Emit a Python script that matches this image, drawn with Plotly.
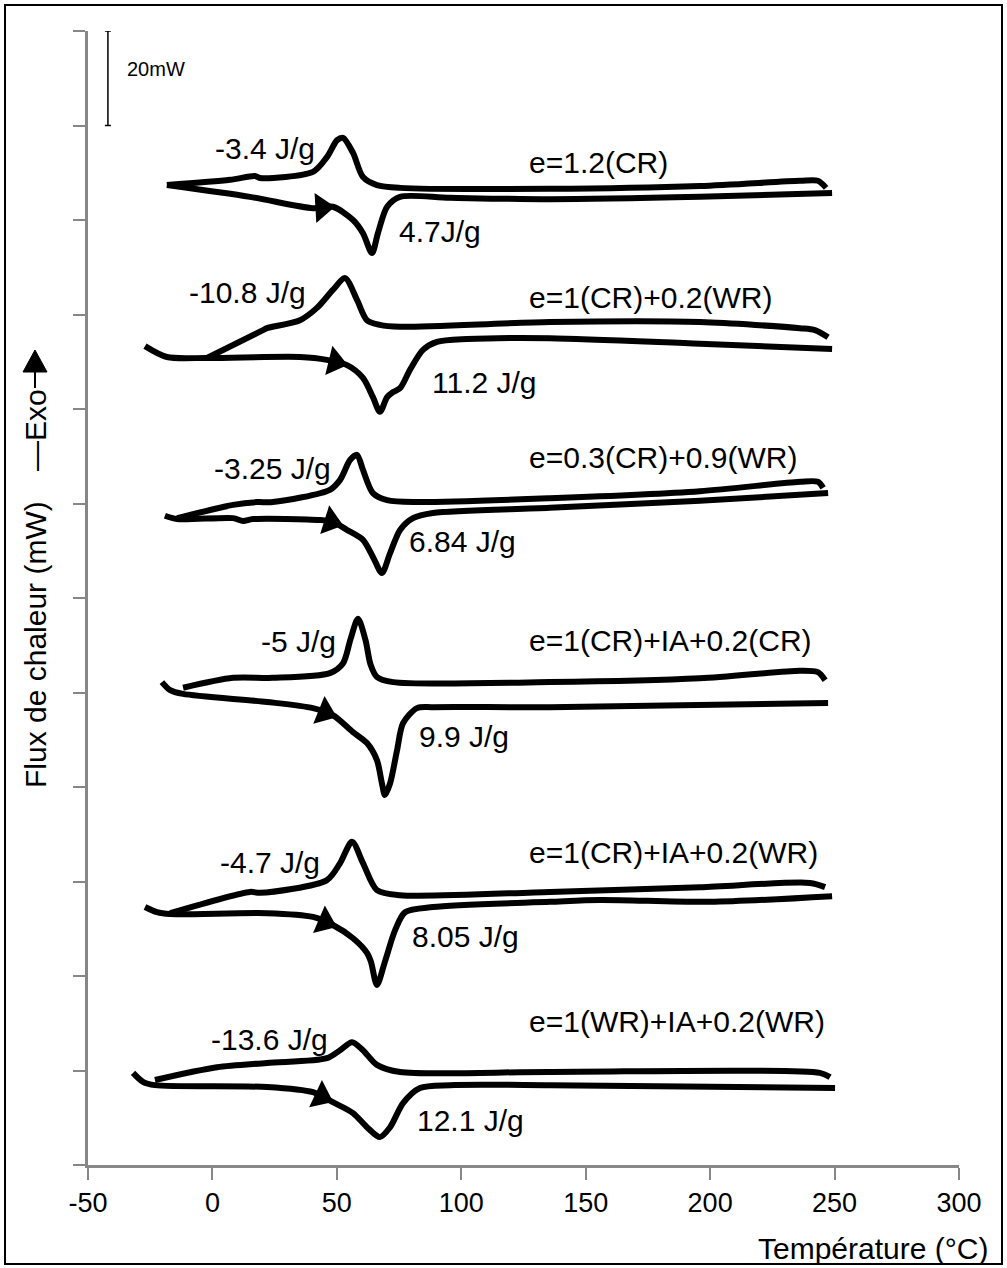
import numpy as np
import plotly.graph_objects as go

# ---------------------------------------------------------------------------
# DSC thermograms (heat flow in mW, each run shifted vertically for clarity).
# "heat" = heating scan (lower branch, endothermic melting dip)
# "cool" = cooling scan (upper branch, exothermic crystallisation peak)
# ---------------------------------------------------------------------------
sample_labels = [
    "e=1.2(CR)",
    "e=1(CR)+0.2(WR)",
    "e=0.3(CR)+0.9(WR)",
    "e=1(CR)+IA+0.2(CR)",
    "e=1(CR)+IA+0.2(WR)",
    "e=1(WR)+IA+0.2(WR)",
]
cryst_labels = ["-3.4 J/g", "-10.8 J/g", "-3.25 J/g", "-5 J/g", "-4.7 J/g", "-13.6 J/g"]
melt_labels = ["4.7J/g", "11.2 J/g", "6.84 J/g", "9.9 J/g", "8.05 J/g", "12.1 J/g"]

# run 1 : e=1.2(CR)
s1_heat_T = [-18.3, 15.1, 40.4, 48.4, 56.5, 60.5, 64.1, 66.5, 70.2, 75.4, 95.5, 135.6, 195.9, 249.0]
s1_heat_q = [207.4, 204.9, 202.5, 202.8, 200.0, 197.2, 193.0, 197.2, 202.8, 204.9, 204.7, 204.4, 204.9, 205.7]
s1_cool_T = [-18.3, 7.1, 17.1, 19.1, 40.4, 46.0, 50.1, 52.5, 56.5, 60.5, 66.1, 75.4, 135.6, 195.9, 236.1, 243.3, 246.6]
s1_cool_q = [207.4, 208.5, 209.3, 208.9, 210.2, 213.3, 216.9, 217.4, 214.2, 209.1, 207.4, 206.8, 206.6, 207.2, 208.3, 208.3, 206.8]

# run 2 : e=1(CR)+0.2(WR)
s2_heat_T = [-27.1, -18.3, -2.2, 35.2, 46.0, 54.1, 60.5, 64.5, 67.3, 70.2, 72.6, 75.4, 79.4, 84.6, 90.2, 102.3, 135.6, 195.9, 249.0]
s2_heat_q = [173.3, 171.0, 170.8, 171.0, 170.4, 169.3, 166.6, 162.5, 159.4, 162.5, 163.6, 164.4, 168.3, 172.5, 174.2, 174.8, 175.0, 173.8, 172.7]
s2_cool_T = [-2.2, 20.3, 21.9, 35.2, 42.0, 48.4, 53.3, 58.1, 62.1, 67.3, 75.4, 135.6, 195.9, 236.1, 242.1, 247.4]
s2_cool_q = [170.8, 176.7, 177.1, 178.8, 181.4, 185.2, 187.7, 183.1, 178.8, 177.8, 177.4, 178.4, 178.4, 177.1, 176.7, 175.2]

# run 3 : e=0.3(CR)+0.9(WR)
s3_heat_T = [-19.1, -14.2, 8.3, 12.3, 16.3, 43.2, 48.4, 54.1, 60.5, 64.5, 68.1, 71.4, 75.4, 80.6, 88.6, 135.6, 195.9, 247.4]
s3_heat_q = [137.4, 136.7, 136.9, 136.3, 136.7, 136.5, 136.1, 134.4, 132.3, 128.7, 125.3, 129.5, 134.4, 136.9, 138.0, 139.1, 140.6, 142.2]
s3_cool_T = [-14.2, 8.3, 17.9, 24.3, 47.2, 51.3, 55.3, 58.1, 60.5, 64.5, 70.2, 82.2, 135.6, 195.9, 236.1, 243.3, 245.4]
s3_cool_q = [136.9, 139.7, 140.3, 140.3, 142.9, 145.0, 149.2, 150.3, 147.1, 142.2, 140.7, 140.3, 141.1, 142.6, 144.6, 144.6, 143.3]

# run 4 : e=1(CR)+IA+0.2(CR)
s4_heat_T = [-20.3, -17.0, -11.8, 21.9, 40.4, 48.4, 56.5, 62.1, 66.1, 68.1, 69.3, 71.4, 74.2, 76.6, 82.2, 88.6, 135.6, 247.4]
s4_heat_q = [102.2, 100.5, 99.7, 98.0, 96.7, 95.2, 91.6, 89.3, 85.7, 80.8, 78.3, 80.8, 87.8, 93.5, 96.7, 96.9, 96.9, 97.8]
s4_cool_T = [-11.8, 8.3, 24.3, 47.2, 52.5, 55.5, 58.5, 61.5, 63.5, 66.1, 72.6, 135.6, 195.9, 236.1, 243.3, 246.2]
s4_cool_q = [101.0, 103.1, 103.1, 104.1, 106.2, 111.3, 115.6, 111.1, 106.0, 103.3, 102.2, 102.2, 103.0, 104.6, 104.3, 102.6]

# run 5 : e=1(CR)+IA+0.2(WR)
s5_heat_T = [-27.1, -22.3, -17.0, 21.9, 40.4, 48.4, 56.5, 62.1, 63.7, 66.1, 69.3, 73.4, 77.4, 88.6, 135.6, 155.7, 199.9, 249.0]
s5_heat_q = [54.6, 53.5, 53.1, 53.3, 52.5, 50.8, 48.0, 44.9, 43.0, 38.1, 43.0, 49.7, 53.5, 54.6, 55.7, 56.1, 55.7, 56.9]
s5_cool_T = [-17.0, 15.1, 19.1, 46.0, 51.3, 56.1, 60.5, 66.1, 75.4, 135.6, 195.9, 240.1, 246.2]
s5_cool_q = [53.3, 57.8, 57.6, 60.3, 63.9, 68.4, 63.9, 58.2, 57.1, 57.8, 58.8, 59.7, 58.8]

# run 6 : e=1(WR)+IA+0.2(WR)
s6_heat_T = [-31.9, -27.9, -23.1, 21.9, 40.4, 48.4, 56.5, 62.1, 67.3, 71.4, 76.6, 83.4, 95.5, 135.6, 250.2]
s6_heat_q = [19.5, 17.6, 16.9, 16.5, 15.4, 13.3, 11.0, 8.0, 5.9, 8.0, 13.1, 16.3, 16.9, 16.9, 16.3]
s6_cool_T = [-23.1, 1.8, 21.9, 46.0, 51.3, 56.1, 60.5, 66.1, 75.4, 135.6, 244.1, 248.2]
s6_cool_q = [18.0, 20.7, 21.6, 22.6, 24.3, 26.0, 24.3, 21.2, 19.7, 19.7, 19.5, 18.6]

# temperature at which the heating-direction arrow sits on each heating scan
arrow_T = [44.0, 49.3, 47.6, 45.2, 45.2, 43.8]

# vertical scale bar
scale_bar_mW = 20
scale_bar_T = -42.0
scale_bar_top = 240.0

x_ticks = [-50, 0, 50, 100, 150, 200, 250, 300]

heat_T = [s1_heat_T, s2_heat_T, s3_heat_T, s4_heat_T, s5_heat_T, s6_heat_T]
heat_q = [s1_heat_q, s2_heat_q, s3_heat_q, s4_heat_q, s5_heat_q, s6_heat_q]
cool_T = [s1_cool_T, s2_cool_T, s3_cool_T, s4_cool_T, s5_cool_T, s6_cool_T]
cool_q = [s1_cool_q, s2_cool_q, s3_cool_q, s4_cool_q, s5_cool_q, s6_cool_q]

# ---------------------------------------------------------------------------
W, H = 1007, 1268
ML, MR, MT, MB = 88, 48, 31, 103
X_RANGE = [-50, 300]
Y_RANGE = [0, 240]
PW, PH = W - ML - MR, H - MT - MB
PX_PER_T = PW / (X_RANGE[1] - X_RANGE[0])
PX_PER_Q = PH / (Y_RANGE[1] - Y_RANGE[0])

FONT = "Liberation Sans, Arial, sans-serif"
AXIS_GREY = "#878787"
LW = 6

fig = go.Figure()

for i in range(6):
    fig.add_trace(go.Scatter(
        x=heat_T[i], y=heat_q[i], mode="lines",
        line=dict(color="black", width=LW, shape="spline", smoothing=0.8),
        hoverinfo="skip", showlegend=False,
    ))
    fig.add_trace(go.Scatter(
        x=cool_T[i], y=cool_q[i], mode="lines",
        line=dict(color="black", width=LW, shape="spline", smoothing=0.8),
        hoverinfo="skip", showlegend=False,
    ))

# arrowheads placed on the heating scans, oriented along the local slope
ax_, ay_, ang_ = [], [], []
for i in range(6):
    t = arrow_T[i]
    q = float(np.interp(t, heat_T[i], heat_q[i]))
    q_lo = float(np.interp(t - 4, heat_T[i], heat_q[i]))
    q_hi = float(np.interp(t + 4, heat_T[i], heat_q[i]))
    dx = 8 * PX_PER_T
    dy = -(q_hi - q_lo) * PX_PER_Q
    ax_.append(t)
    ay_.append(q)
    ang_.append(float(np.degrees(np.arctan2(dy, dx))))
fig.add_trace(go.Scatter(
    x=ax_, y=ay_, mode="markers",
    marker=dict(symbol="triangle-right", size=26, color="black", angle=ang_,
                line=dict(width=0)),
    hoverinfo="skip", showlegend=False,
))

# 20 mW scale bar
fig.add_trace(go.Scatter(
    x=[scale_bar_T], y=[scale_bar_top - scale_bar_mW / 2], mode="markers",
    marker=dict(size=1, color="rgba(0,0,0,0)"),
    error_y=dict(type="data", array=[scale_bar_mW / 2], color="black",
                 thickness=1.5, width=3),
    cliponaxis=False, hoverinfo="skip", showlegend=False,
))

annotations = []
annotations.append(dict(
    x=scale_bar_T + 6.8, y=scale_bar_top - scale_bar_mW / 2 + 2, xref="x", yref="y",
    text=f"{scale_bar_mW}mW", showarrow=False, xanchor="left", yanchor="middle",
    font=dict(family=FONT, size=20, color="black"),
))

cryst_pos = [(42.0, 215.2), (38.4, 184.6), (48.4, 147.5), (50.5, 110.9), (44.0, 64.1), (47.2, 26.5)]
melt_pos = [(74.2, 197.5), (87.4, 165.7), (78.2, 131.9), (82.2, 90.6), (79.4, 48.3), (81.4, 9.5)]
label_q = [212.1, 183.5, 149.8, 111.1, 66.2, 30.3]
label_T = 126.4

for i in range(6):
    annotations.append(dict(
        x=cryst_pos[i][0], y=cryst_pos[i][1], xref="x", yref="y",
        text=cryst_labels[i], showarrow=False, xanchor="right", yanchor="middle",
        font=dict(family=FONT, size=30, color="black"),
    ))
    annotations.append(dict(
        x=melt_pos[i][0], y=melt_pos[i][1], xref="x", yref="y",
        text=melt_labels[i], showarrow=False, xanchor="left", yanchor="middle",
        font=dict(family=FONT, size=30, color="black"),
    ))
    annotations.append(dict(
        x=label_T, y=label_q[i], xref="x", yref="y",
        text=sample_labels[i], showarrow=False, xanchor="left", yanchor="middle",
        font=dict(family=FONT, size=30, color="black"),
    ))


def px_to_paper(px, py):
    return (px - ML) / PW, (H - MB - py) / PH


# axis titles
tx, ty = px_to_paper(990, 1248)
annotations.append(dict(
    x=tx, y=ty, xref="paper", yref="paper", text="Température (°C)",
    showarrow=False, xanchor="right", yanchor="middle",
    font=dict(family=FONT, size=30, color="black"),
))
fx, fy = px_to_paper(35, 645)
annotations.append(dict(
    x=fx, y=fy, xref="paper", yref="paper", text="Flux de chaleur (mW)",
    showarrow=False, textangle=-90, xanchor="center", yanchor="middle",
    font=dict(family=FONT, size=30, color="black"),
))
ex, ey = px_to_paper(35, 430)
annotations.append(dict(
    x=ex, y=ey, xref="paper", yref="paper", text="—Exo",
    showarrow=False, textangle=-90, xanchor="center", yanchor="middle",
    font=dict(family=FONT, size=30, color="black"),
))

shapes = []
# "Exo" direction arrow
tipx, tipy = px_to_paper(35, 350)
blx, bly = px_to_paper(23, 372)
brx, bry = px_to_paper(47, 372)
stx, sty = px_to_paper(35, 388)
shapes.append(dict(type="line", xref="paper", yref="paper",
                   x0=tipx, y0=bly, x1=stx, y1=sty,
                   line=dict(color="black", width=2)))
shapes.append(dict(type="path", xref="paper", yref="paper",
                   path=f"M {tipx},{tipy} L {blx},{bly} L {brx},{bry} Z",
                   fillcolor="black", line=dict(color="black", width=1)))
# outer frame
b0x, b0y = px_to_paper(5, 1264)
b1x, b1y = px_to_paper(1002, 5)
shapes.append(dict(type="rect", xref="paper", yref="paper",
                   x0=b0x, y0=b0y, x1=b1x, y1=b1y,
                   line=dict(color="black", width=2)))

fig.update_layout(
    width=W, height=H,
    margin=dict(l=ML, r=MR, t=MT, b=MB),
    paper_bgcolor="white", plot_bgcolor="white",
    annotations=annotations, shapes=shapes,
    xaxis=dict(
        range=X_RANGE, tickmode="array", tickvals=x_ticks,
        ticktext=[str(v) for v in x_ticks],
        ticks="outside", ticklen=12, tickwidth=1.5, tickcolor=AXIS_GREY,
        showline=True, linecolor=AXIS_GREY, linewidth=2.5,
        showgrid=False, zeroline=False,
        tickfont=dict(family=FONT, size=27, color="black"),
    ),
    yaxis=dict(
        range=Y_RANGE, dtick=20, tick0=0,
        ticks="outside", ticklen=12, tickwidth=1.5, tickcolor=AXIS_GREY,
        showline=True, linecolor=AXIS_GREY, linewidth=2.5,
        showgrid=False, zeroline=False, showticklabels=False,
    ),
)

fig.write_html("out.html")
